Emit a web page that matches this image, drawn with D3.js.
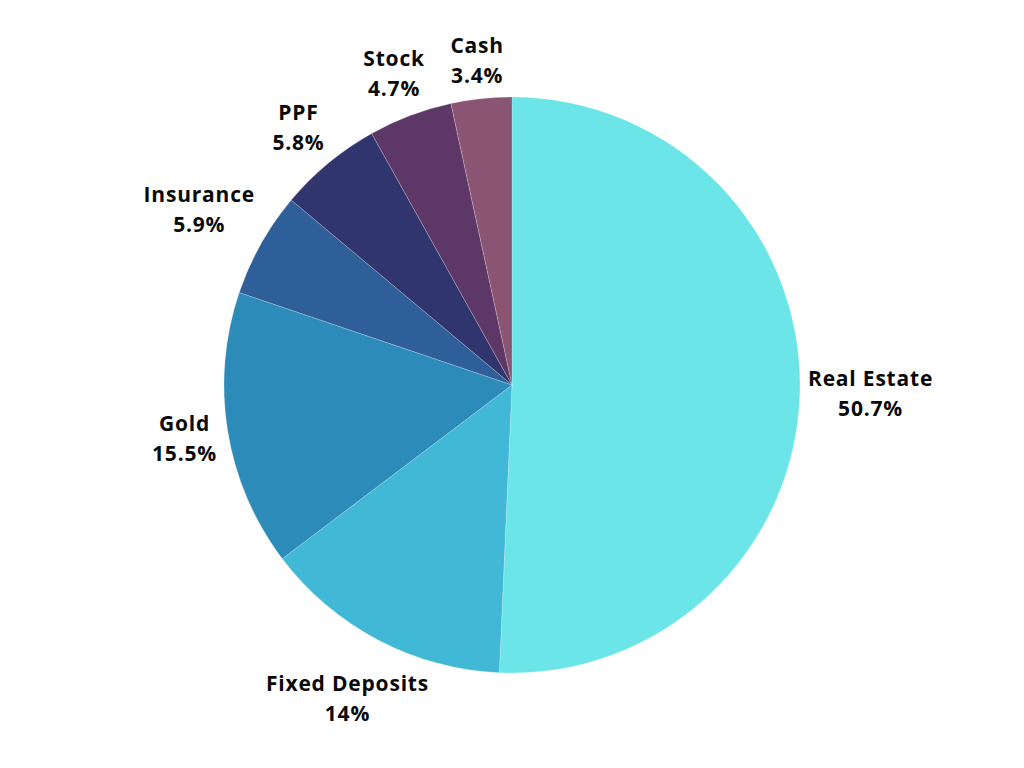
<!DOCTYPE html>
<html lang="en">
<head>
<meta charset="UTF-8">
<title>Asset allocation</title>
<script src="https://d3js.org/d3.v7.min.js"></script>
<style>
    body { margin: 0; background: #fff; overflow: hidden; }
    svg { display: block; }
    .lbl { font-family: "Open Sans", "Noto Sans", sans-serif; font-weight: 700; font-size: 21px; letter-spacing: 0.8px; fill: #0a0a0a; }
</style>
</head>
<body>
<script>
    // data, clockwise from 12 o'clock
    const categories = ["Real Estate", "Fixed Deposits", "Gold", "Insurance", "PPF", "Stock", "Cash"];
    const shares = [50.7, 14, 15.5, 5.9, 5.8, 4.7, 3.4];
    const shareLabels = ["50.7%", "14%", "15.5%", "5.9%", "5.8%", "4.7%", "3.4%"];
    const colors = ["#6ce5e8", "#41b8d5", "#2d8bba", "#2f5f98", "#31356e", "#5d3867", "#8a5573"];

    const width = 1024, height = 768;
    const cx = 512, cy = 385, radius = 288;
    const gap = 8; // space between pie edge and label box

    const svg = d3.select("body").append("svg")
        .attr("width", width)
        .attr("height", height);

    const data = categories.map((c, i) => ({ name: c, value: shares[i], label: shareLabels[i], color: colors[i] }));

    const pie = d3.pie().value(d => d.value).sort(null);
    const arc = d3.arc().innerRadius(0).outerRadius(radius);
    const arcs = pie(data);

    const g = svg.append("g").attr("transform", `translate(${cx},${cy})`);

    g.selectAll("path")
        .data(arcs)
        .enter().append("path")
        .attr("d", arc)
        .attr("fill", d => d.data.color)
        .attr("stroke", "#fff")
        .attr("stroke-opacity", 0.35)
        .attr("stroke-width", 0.6);

    // labels: two lines, pushed out until the text box clears the pie
    const labels = g.selectAll("g.label")
        .data(arcs)
        .enter().append("g")
        .attr("class", "label");

    const txt = labels.append("text")
        .attr("class", "lbl")
        .attr("text-anchor", "middle");
    txt.append("tspan").attr("x", 0).attr("y", 0).text(d => d.data.name);
    txt.append("tspan").attr("x", 0).attr("y", 30).text(d => d.data.label);

    // distance from origin to nearest point of a box centred at (px,py)
    function boxDist(px, py, hw, hh) {
        const nx = Math.max(px - hw, Math.min(0, px + hw));
        const ny = Math.max(py - hh, Math.min(0, py + hh));
        return Math.hypot(nx, ny);
    }

    labels.each(function(d) {
        const b = d3.select(this).select("text").node().getBBox();
        const hw = b.width / 2, hh = b.height / 2;
        const ox = b.x + hw, oy = b.y + hh; // box centre relative to text origin
        const a = (d.startAngle + d.endAngle) / 2;
        const ux = Math.sin(a), uy = -Math.cos(a);
        let lo = 0, hi = radius * 2;
        for (let k = 0; k < 40; k++) {
            const t = (lo + hi) / 2;
            if (boxDist(ux * t, uy * t, hw, hh) < radius + gap) lo = t; else hi = t;
        }
        const t = hi;
        d3.select(this).attr("transform", `translate(${ux * t - ox},${uy * t - oy})`);
    });
</script>
</body>
</html>
